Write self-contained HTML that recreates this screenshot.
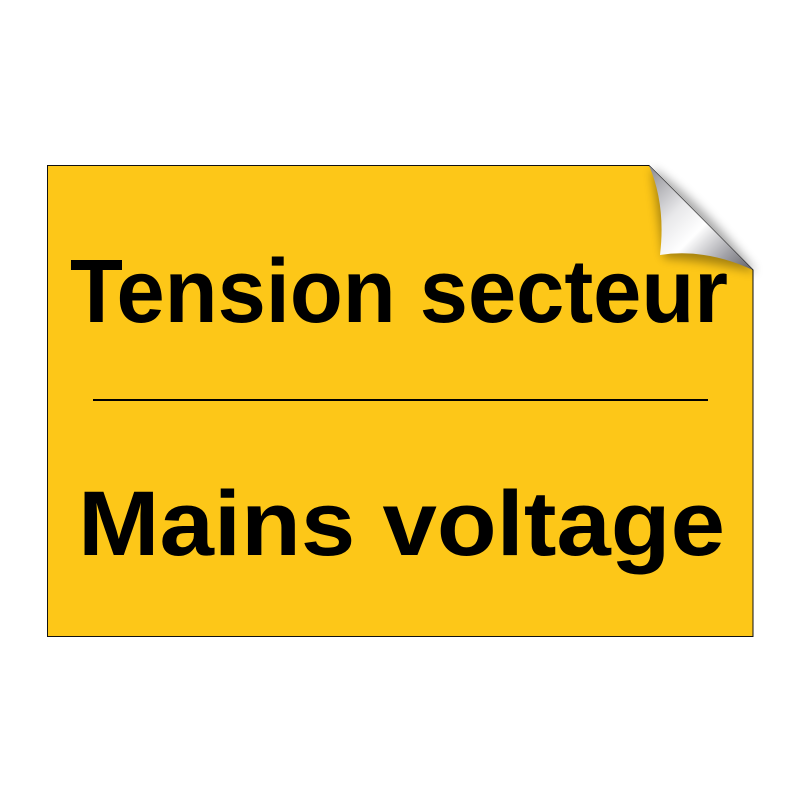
<!DOCTYPE html>
<html><head><style>body{margin:0;background:#fff}svg{display:block}</style></head><body>
<svg width="800" height="800" viewBox="0 0 800 800" xmlns="http://www.w3.org/2000/svg">
<defs>
<linearGradient id="g" x1="0" y1="0" x2="1" y2="1">
<stop offset="0" stop-color="#8a8a90"/><stop offset="0.35" stop-color="#e8e8ea"/><stop offset="0.55" stop-color="#ffffff"/><stop offset="0.8" stop-color="#a0a0a6"/><stop offset="1" stop-color="#606066"/>
</linearGradient>
<filter id="s" x="-50%" y="-50%" width="200%" height="200%"><feGaussianBlur stdDeviation="5"/></filter>
</defs>
<path d="M47.5 165.5 H649 L753 270 V636.5 H47.5 Z" fill="#fdc718" stroke="#111" stroke-width="1"/>
<path d="M652 168 Q700 200 756 272 Q700 260 664 258 Z" fill="#000" opacity="0.35" filter="url(#s)"/>
<path d="M649 165.5 Q666 205 660 255 Q705 248 753 270 Z" fill="url(#g)"/>
<text x="70" y="322" font-family="Liberation Sans, sans-serif" font-weight="bold" font-size="90" textLength="658" lengthAdjust="spacingAndGlyphs">Tension secteur</text>
<line x1="93" y1="400" x2="708" y2="400" stroke="#000" stroke-width="2"/>
<text x="78" y="555" font-family="Liberation Sans, sans-serif" font-weight="bold" font-size="92" textLength="647" lengthAdjust="spacingAndGlyphs">Mains voltage</text>
</svg>
</body></html>
